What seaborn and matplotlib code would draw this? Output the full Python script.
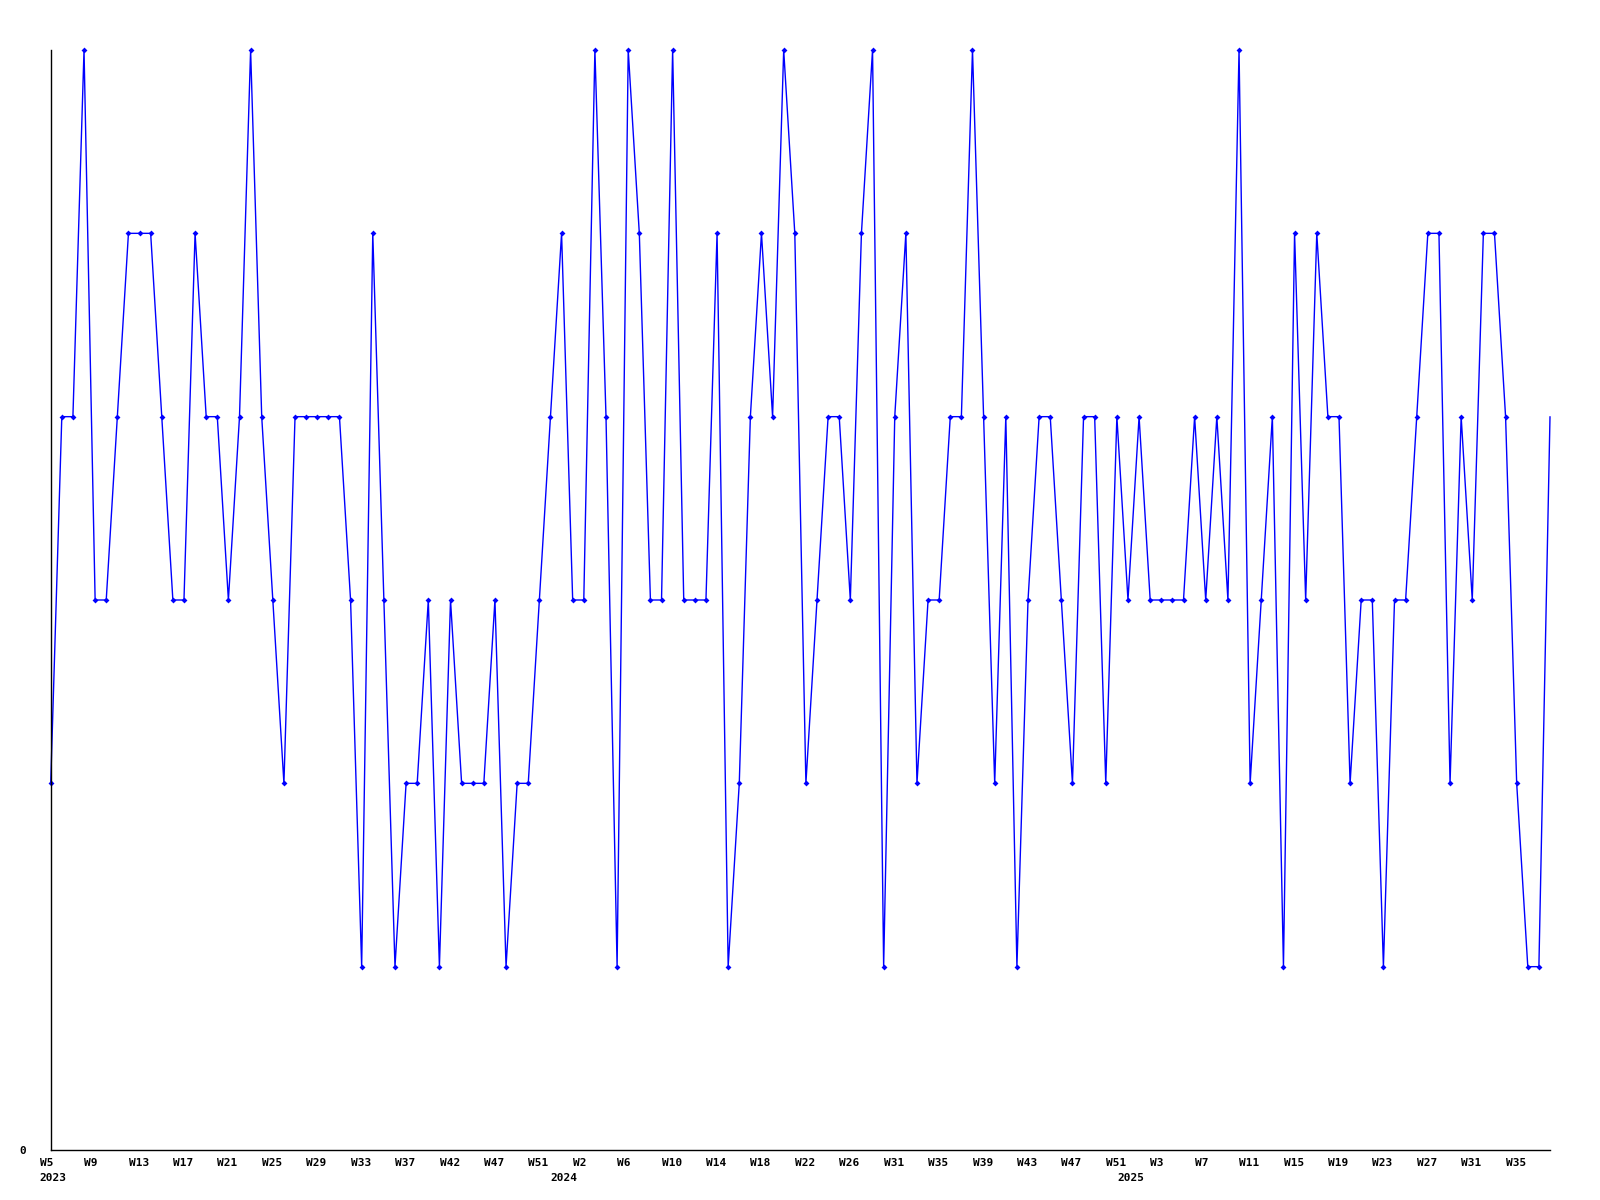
import pandas as pd
import matplotlib.pyplot as plt
import matplotlib.transforms as mtransforms
import seaborn as sns

values = [2, 4, 4, 6, 3, 3, 4, 5, 5, 5,
          4, 3, 3, 5, 4, 4, 3, 4, 6, 4,
          3, 2, 4, 4, 4, 4, 4, 3, 1, 5,
          3, 1, 2, 2, 3, 1, 3, 2, 2, 2,
          3, 1, 2, 2, 3, 4, 5, 3, 3, 6,
          4, 1, 6, 5, 3, 3, 6, 3, 3, 3,
          5, 1, 2, 4, 5, 4, 6, 5, 2, 3,
          4, 4, 3, 5, 6, 1, 4, 5, 2, 3,
          3, 4, 4, 6, 4, 2, 4, 1, 3, 4,
          4, 3, 2, 4, 4, 2, 4, 3, 4, 3,
          3, 3, 3, 4, 3, 4, 3, 6, 2, 3,
          4, 1, 5, 3, 5, 4, 4, 2, 3, 3,
          1, 3, 3, 4, 5, 5, 2, 4, 3, 5,
          5, 4, 2, 1, 1, 4]

week_labels = ['W5', 'W9', 'W13', 'W17', 'W21', 'W25', 'W29', 'W33', 'W37', 'W42',
               'W47', 'W51', 'W2', 'W6', 'W10', 'W14', 'W18', 'W22', 'W26', 'W31',
               'W35', 'W39', 'W43', 'W47', 'W51', 'W3', 'W7', 'W11', 'W15', 'W19',
               'W23', 'W27', 'W31', 'W35']
year_labels = ['2023', '2024', '2025']
year_pos = [0, 46, 97]

df = pd.DataFrame({'idx': range(len(values)), 'value': values})

sns.set_style('white')
plt.rcParams['font.family'] = ['DejaVu Sans Mono']
plt.rcParams['text.color'] = 'black'
plt.rcParams['xtick.color'] = 'black'
plt.rcParams['ytick.color'] = 'black'

fig = plt.figure(figsize=(16, 12), dpi=100)
ax = fig.add_axes([50.7 / 1600, 50 / 1200, (1550 - 50.7) / 1600, 1100 / 1200])

sns.lineplot(data=df, x='idx', y='value', ax=ax, color='#0000ff', linewidth=1,
             marker='D', markersize=3, markeredgewidth=0,
             markevery=slice(0, len(values) - 1), clip_on=False)

ax.set_xlim(0, len(values) - 1)
ax.set_ylim(0, 6)
ax.set_xlabel('')
ax.set_ylabel('')

for s in ['top', 'right']:
    ax.spines[s].set_visible(False)
for s in ['left', 'bottom']:
    ax.spines[s].set_color('black')
    ax.spines[s].set_linewidth(1)

ax.set_yticks([0])
ax.set_yticklabels(['0'], fontsize=8, fontweight='bold', color='black')
ax.tick_params(axis='y', length=0, pad=18)

ax.set_xticks(range(0, 4 * len(week_labels), 4))
ax.set_xticklabels(week_labels, fontsize=8, fontweight='bold', color='black')
ax.tick_params(axis='x', length=0, pad=5.5)
shift = mtransforms.ScaledTranslation(-11 / 100, 0, fig.dpi_scale_trans)
for lab in ax.get_xticklabels():
    lab.set_horizontalalignment('left')
    lab.set_transform(lab.get_transform() + shift)

ytrans = mtransforms.blended_transform_factory(ax.transData, ax.transAxes)
ytrans = ytrans + mtransforms.ScaledTranslation(-11 / 100, -23 / 100, fig.dpi_scale_trans)
for pos, year in zip(year_pos, year_labels):
    ax.text(pos, 0, year, transform=ytrans, ha='left', va='top',
            fontsize=8, fontweight='bold', color='black', clip_on=False)

ax.grid(False)
fig.savefig('out.png', dpi=100)
